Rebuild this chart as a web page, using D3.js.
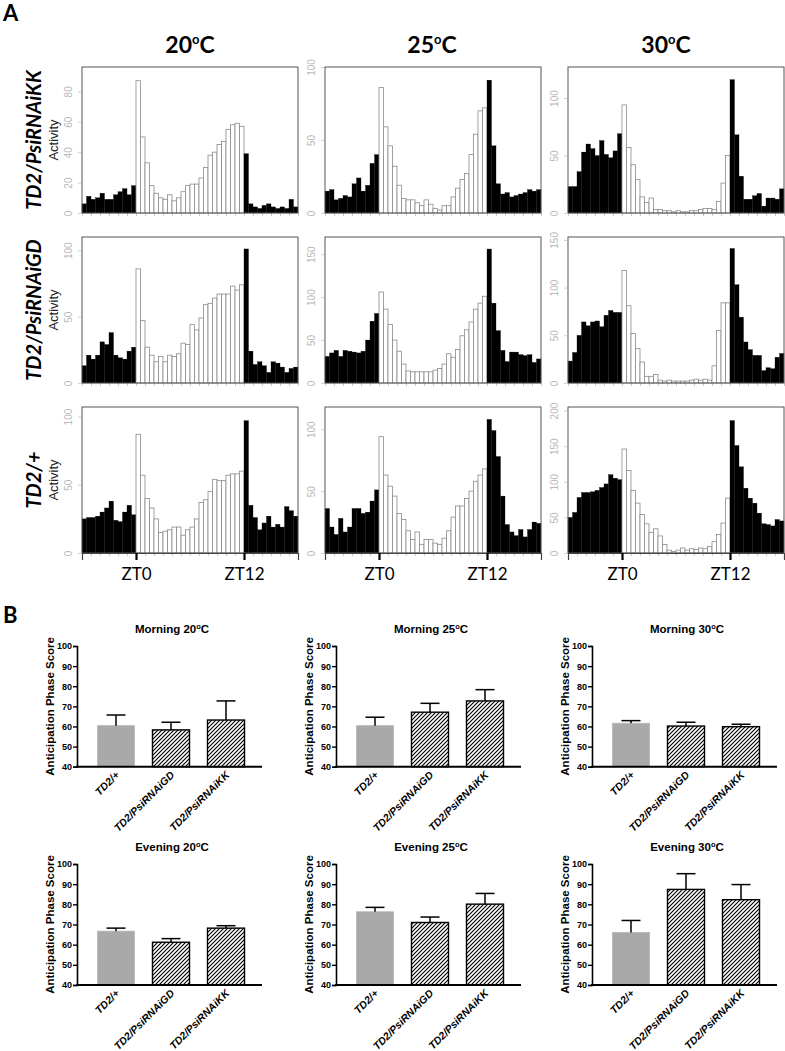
<!DOCTYPE html>
<html><head><meta charset="utf-8">
<script src="https://cdn.jsdelivr.net/npm/d3@7"></script>
<style>body{margin:0;background:#fff}svg{display:block}</style>
</head><body>
<svg id="c" width="785" height="1051"></svg>
<script>
// ---------- Panel A data (48 half-hour bins, ZT-6 .. ZT18) ----------
const temps = ["20", "25", "30"];
const rowGenotypes = ["TD2/PsiRNAiKK", "TD2/PsiRNAiGD", "TD2/+"];
const actKK20 = [6,11,9,10,13,9,9,12,14,16,12,18, 87,50,33,18,13,10,9,12,8,10,14,18,19,19,23,30,38,40,45,47,55,58,59,57, 39,6,4,3,5,6,4,3,4,3,9,4];
const actKK25 = [15,16,9,10,12,11,20,24,15,19,34,40, 86,59,46,32,19,10,9,9,7,5,9,6,3,2,5,5,11,17,23,27,40,54,70,72, 91,46,20,13,14,11,12,13,14,16,15,16];
const actKK30 = [23,23,36,53,60,56,50,63,51,48,54,69, 94,57,42,29,14,9,13,3,3,2,2,1,2,1,1,2,2,3,4,4,3,10,26,50, 116,68,32,12,12,15,17,6,13,13,12,21];
const actGD20 = [13,21,18,21,31,29,38,21,19,18,24,27, 86,47,27,21,16,20,16,21,20,22,30,29,44,40,49,59,60,64,67,67,67,73,70,74, 101,24,14,16,13,8,16,15,12,8,11,12];
const actGD25 = [31,35,38,31,38,37,36,35,37,50,72,81, 106,86,68,50,37,22,14,13,13,13,13,13,15,17,22,34,30,39,55,62,71,86,93,101, 156,93,61,38,25,36,36,33,32,33,24,28];
const actGD30 = [23,32,50,64,60,64,65,59,71,76,74,74, 118,81,52,36,22,7,7,9,3,2,3,2,2,2,2,3,4,3,4,3,18,55,84,84, 141,103,69,43,35,29,29,13,16,15,27,31];
const actTD20 = [25,26,26,27,30,33,38,24,23,30,35,28, 87,57,40,33,25,15,16,17,19,19,13,17,19,25,37,39,45,54,53,53,57,58,58,60, 97,35,26,17,22,27,19,21,19,34,31,27];
const actTD25 = [36,21,15,28,17,21,36,36,32,33,42,51, 94,63,54,46,32,27,18,11,17,7,11,11,8,7,12,18,29,38,38,44,50,58,63,68, 108,99,78,46,23,17,14,19,13,19,25,24];
const actTD30 = [50,57,78,85,85,86,88,92,97,110,105,103, 146,116,88,70,54,41,29,34,24,12,4,2,4,7,4,6,5,7,6,9,16,26,42,77, 186,151,121,91,77,70,56,41,40,38,47,45];
const yMaxKK = [96, 100, 127];
const yMaxGD = [110, 170, 153];
const yMaxTD = [107, 118, 205];
const yTicksKK = [[0,20,40,60,80], [0,50,100], [0,50,100]];
const yTicksGD = [[0,50,100], [0,50,100,150], [0,50,100,150]];
const yTicksTD = [[0,50,100], [0,50,100], [0,50,100,150,200]];
const ztTicks = [0, 12];
const ztLabels = ["ZT0", "ZT12"];

// ---------- Panel B data ----------
const groups = ["TD2/+", "TD2/PsiRNAiGD", "TD2/PsiRNAiKK"];
const morning20 = [60.4, 58.3, 63.2], morning20Err = [5.3, 3.8, 9.5];
const morning25 = [60.4, 67.1, 72.7], morning25Err = [4.2, 4.4, 5.6];
const morning30 = [61.6, 60.2, 59.9], morning30Err = [1.3, 1.9, 1.2];
const evening20 = [66.7, 61.2, 68.2], evening20Err = [1.5, 1.8, 1.2];
const evening25 = [76.3, 71.0, 80.1], evening25Err = [2.2, 2.7, 5.3];
const evening30 = [66.0, 87.4, 82.3], evening30Err = [6.0, 7.8, 7.5];
const yTicksB = [40, 50, 60, 70, 80, 90, 100];

// ---------- drawing ----------
const svg = d3.select("#c");
const defs = svg.append("defs");
const pat = defs.append("pattern").attr("id", "hatch").attr("patternUnits", "userSpaceOnUse")
  .attr("width", 4).attr("height", 4);
pat.append("rect").attr("width", 4).attr("height", 4).attr("fill", "#fff");
pat.append("path").attr("d", "M-1,1 l2,-2 M0,4 l4,-4 M3,5 l2,-2")
  .attr("stroke", "#000").attr("stroke-width", 1.15);

const activity = [[actKK20, actKK25, actKK30], [actGD20, actGD25, actGD30], [actTD20, actTD25, actTD30]];
const yMaxA = [yMaxKK, yMaxGD, yMaxTD];
const yTicksA = [yTicksKK, yTicksGD, yTicksTD];

const colLeft = [82, 325, 568], panelW = 216;
const rowTop = [67, 237, 407], panelH = 146;
const titleX = [190, 432, 666];

svg.append("text").attr("x", 3).attr("y", 21).text("A")
  .style("font", "bold 22px Lato");

temps.forEach((t, c) => {
  const tx = svg.append("text").attr("x", titleX[c]).attr("y", 53).attr("text-anchor", "middle")
    .style("font", "bold 23px Lato").style("fill", "#000");
  tx.append("tspan").text(t);
  tx.append("tspan").text("o").attr("dy", -9).style("font-size", "13px");
  tx.append("tspan").text("C").attr("dy", 9);
});

rowGenotypes.forEach((g, r) => {
  const cy = rowTop[r] + panelH / 2;
  svg.append("text").attr("transform", `translate(41,${cy}) rotate(-90)`)
    .attr("text-anchor", "middle").text(g)
    .style("font", "italic bold 20px Lato");
  svg.append("text").attr("transform", `translate(58,${cy}) rotate(-90)`)
    .attr("text-anchor", "middle").text("Activity")
    .style("font", "13px 'Liberation Sans'").style("fill", "#222");

  temps.forEach((t, c) => {
    const L = colLeft[c], T = rowTop[r], B = T + panelH;
    const data = activity[r][c];
    const x = d3.scaleBand().domain(d3.range(data.length)).range([L, L + panelW]).padding(0);
    const xh = d3.scaleLinear().domain([-6, 18]).range([L, L + panelW]);
    const y = d3.scaleLinear().domain([0, yMaxA[r][c]]).range([B, T]);
    const g = svg.append("g");

    const bx = g.append("g").attr("transform", `translate(0,${B})`)
      .call(d3.axisBottom(xh).tickValues(d3.range(-6, 18.5, 1)).tickSize(3).tickFormat(""));
    bx.select(".domain").remove();
    bx.selectAll("line").attr("stroke", "#c8c8c8");

    g.selectAll("rect.bar").data(data).join("rect").attr("class", "bar")
      .attr("x", (d, i) => x(i)).attr("width", x.bandwidth())
      .attr("y", d => y(d)).attr("height", d => B - y(d))
      .attr("fill", (d, i) => (i < 12 || i >= 36) ? "#000" : "#fff")
      .attr("stroke", (d, i) => (i < 12 || i >= 36) ? "#000" : "#8a8a8a")
      .attr("stroke-width", (d, i) => (i < 12 || i >= 36) ? 0.3 : 0.8);

    g.append("rect").attr("x", L).attr("y", T).attr("width", panelW).attr("height", panelH)
      .attr("fill", "none").attr("stroke", "#555").attr("stroke-width", 1);

    const ya = g.append("g").attr("transform", `translate(${L - 1},0)`)
      .call(d3.axisLeft(y).tickValues(yTicksA[r][c]).tickSize(3));
    ya.select(".domain").remove();
    ya.selectAll("line").attr("stroke", "#d0d0d0");
    ya.selectAll("text").attr("x", 0).attr("dy", 0).attr("text-anchor", "middle")
      .attr("transform", "translate(-9,0) rotate(-90)")
      .style("font", "10px 'Liberation Sans'").attr("fill", "#b8b8b8");

    if (r === 2) {
      const za = g.append("g").attr("transform", `translate(0,${B})`)
        .call(d3.axisBottom(xh).tickValues(ztTicks).tickSize(7).tickPadding(8)
          .tickFormat((d, i) => ztLabels[i]));
      za.select(".domain").attr("stroke", "#444").attr("stroke-width", 1.2);
      za.selectAll("line").attr("stroke", "#000").attr("stroke-width", 2.2);
      za.selectAll("text").style("font", "17px Lato").attr("fill", "#000");
    }
  });
});

// ---------- Panel B ----------
svg.append("text").attr("x", 3).attr("y", 623).text("B").style("font", "bold 22px Lato");

const bPanels = [
  {name: "Morning", t: "20", v: morning20, e: morning20Err},
  {name: "Morning", t: "25", v: morning25, e: morning25Err},
  {name: "Morning", t: "30", v: morning30, e: morning30Err},
  {name: "Evening", t: "20", v: evening20, e: evening20Err},
  {name: "Evening", t: "25", v: evening25, e: evening25Err},
  {name: "Evening", t: "30", v: evening30, e: evening30Err}
];
const axisXB = [77, 336, 592];
const y100B = [646, 864], y40B = [766.7, 985];

bPanels.forEach((p, k) => {
  const c = k % 3, r = Math.floor(k / 3);
  const ax = axisXB[c];
  const y = d3.scaleLinear().domain([40, 100]).range([y40B[r], y100B[r]]);
  const x = d3.scaleBand().domain(groups).range([ax + 11.5, ax + 176.5])
    .paddingInner(0.327).paddingOuter(0.1635);
  const g = svg.append("g");

  const tt = g.append("text").attr("x", ax + 95).attr("y", y100B[r] - 13).attr("text-anchor", "middle")
    .style("font", "bold 11.5px 'Liberation Sans'");
  tt.append("tspan").text(p.name + " " + p.t);
  tt.append("tspan").text("o").attr("dy", -4).style("font-size", "7.5px");
  tt.append("tspan").text("C").attr("dy", 4);

  g.append("text").attr("transform", `translate(${ax - 23},${(y40B[r] + y100B[r]) / 2}) rotate(-90)`)
    .attr("text-anchor", "middle").text("Anticipation Phase Score")
    .style("font", "bold 11.5px 'Liberation Sans'");

  g.selectAll("rect.bb").data(p.v).join("rect").attr("class", "bb")
    .attr("x", (d, i) => x(groups[i])).attr("width", x.bandwidth())
    .attr("y", d => y(d)).attr("height", d => y(40) - y(d))
    .attr("fill", (d, i) => i === 0 ? "#a9a9a9" : "url(#hatch)")
    .attr("stroke", (d, i) => i === 0 ? "#b5b5b5" : "#000")
    .attr("stroke-width", (d, i) => i === 0 ? 0.8 : 1.4);

  p.v.forEach((d, i) => {
    const cx = x(groups[i]) + x.bandwidth() / 2;
    g.append("line").attr("x1", cx).attr("x2", cx).attr("y1", y(d)).attr("y2", y(d + p.e[i]))
      .attr("stroke", "#000").attr("stroke-width", 1.5);
    g.append("line").attr("x1", cx - 9.5).attr("x2", cx + 9.5).attr("y1", y(d + p.e[i])).attr("y2", y(d + p.e[i]))
      .attr("stroke", "#000").attr("stroke-width", 1.5);
  });

  const ya = g.append("g").attr("transform", `translate(${ax},0)`)
    .call(d3.axisLeft(y).tickValues(yTicksB).tickSize(4).tickPadding(1));
  ya.select(".domain").attr("stroke-width", 1.6);
  ya.selectAll("line").attr("stroke-width", 1.4);
  ya.selectAll("text").style("font", "bold 9px 'Liberation Sans'");

  g.append("line").attr("x1", ax - 1).attr("x2", ax + 185).attr("y1", y(40)).attr("y2", y(40))
    .attr("stroke", "#000").attr("stroke-width", 2);

  const xa = g.append("g").attr("transform", `translate(0,${y(40)})`)
    .call(d3.axisBottom(x).tickSize(0));
  xa.select(".domain").remove();
  xa.selectAll("text").attr("x", 0).attr("y", 0).attr("dy", 0).attr("text-anchor", "end")
    .attr("transform", "translate(4,9) rotate(-45)")
    .style("font", "italic bold 10.5px 'Liberation Sans'");
});
</script>
</body></html>
